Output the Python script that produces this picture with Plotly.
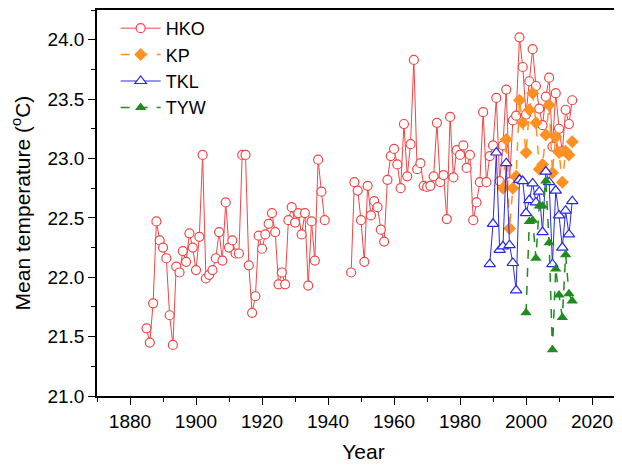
import plotly.graph_objects as go

# ---------------- data ----------------
hko_years = list(range(1885, 2015))
hko_temps = [
    # 1885-1894
    21.57, 21.45, 21.78, 22.47, 22.31, 22.25, 22.16, 21.68, 21.43, 22.09,
    # 1895-1904
    22.04, 22.22, 22.13, 22.37, 22.25, 22.06, 22.34, 23.03, 21.99, 22.02,
    # 1905-1914
    22.06, 22.16, 22.38, 22.14, 22.63, 22.25, 22.31, 22.20, 22.20, 23.03,
    # 1915-1924
    23.03, 22.10, 21.70, 21.84, 22.35, 22.24, 22.36, 22.45, 22.54, 22.38,
    # 1925-1934
    21.94, 22.04, 21.94, 22.48, 22.59, 22.46, 22.54, 22.36, 22.54, 21.93,
    # 1935-1939
    22.47, 22.14, 22.99, 22.72, 22.48,
    # 1940-1946 (no data)
    None, None, None, None, None, None, None,
    # 1947-1956
    22.04, 22.80, 22.73, 22.48, 22.13, 22.77, 22.52, 22.64, 22.59, 22.40,
    # 1957-1966
    22.30, 22.82, 23.02, 23.08, 22.95, 22.75, 23.29, 22.85, 23.12, 23.83,
    # 1967-1976
    22.91, 22.96, 22.77, 22.76, 22.77, 22.85, 23.30, 22.80, 22.86, 22.49,
    # 1977-1986
    23.35, 22.84, 23.07, 23.03, 23.11, 22.92, 23.03, 22.48, 22.63, 22.80,
    # 1987-1996
    23.39, 22.80, 23.02, 23.11, 23.51, 22.81, 23.11, 23.58, 22.80, 23.32,
    # 1997-2006
    23.36, 24.02, 23.77, 23.37, 23.65, 23.92, 23.61, 23.42, 23.28, 23.52,
    # 2007-2014
    23.68, 23.10, 23.55, 23.25, 23.06, 23.41, 23.29, 23.49,
]

kp_years = list(range(1993, 2015))
kp_temps = [22.75, 23.16, 22.41, 22.75, 22.85, 23.49, 23.30, 23.05, 23.41, 23.55,
            23.30, 22.91, 22.95, 23.20, 23.45, 22.88, 23.18, 23.05, 22.80, 23.06,
            23.03, 23.14]

tkl_years = list(range(1989, 2015))
tkl_temps = [22.11, 22.45, 23.05, 22.23, 22.26, 22.96, 22.27, 22.12, 21.89, 22.82,
             22.81, 22.54, 22.65, 22.79, 22.63, 22.72, 22.38, 22.89, 22.80, 22.11,
             22.73, 22.52, 22.25, 22.56, 22.36, 22.64]

tyw_years = list(range(2000, 2015))
tyw_temps = [21.70, 22.47, 22.48, 22.16, 22.60, 22.60, 22.81, 22.29, 21.39, 22.07,
             21.85, 21.66, 22.19, 21.86, 21.80]

x_ticks = [1880, 1900, 1920, 1940, 1960, 1980, 2000, 2020]
y_ticks = [21.0, 21.5, 22.0, 22.5, 23.0, 23.5, 24.0]

# ---------------- styles ----------------
RED = "rgb(240,70,70)"
ORANGE = "rgb(255,145,35)"
BLUE = "rgb(40,40,230)"
GREEN = "rgb(30,140,30)"
FONT = "Liberation Sans, Arial, sans-serif"

fig = go.Figure()
fig.add_trace(go.Scatter(
    x=hko_years, y=hko_temps, name="HKO", mode="lines+markers",
    connectgaps=False,
    line=dict(color=RED, width=1),
    marker=dict(symbol="circle", size=9, color="white",
                line=dict(color=RED, width=1.2)),
))
fig.add_trace(go.Scatter(
    x=kp_years, y=kp_temps, name="KP", mode="lines+markers",
    line=dict(color=ORANGE, width=1.5, dash="dash"),
    marker=dict(symbol="diamond", size=10, color=ORANGE,
                line=dict(color=ORANGE, width=0)),
))
fig.add_trace(go.Scatter(
    x=tkl_years, y=tkl_temps, name="TKL", mode="lines+markers",
    line=dict(color=BLUE, width=1),
    marker=dict(symbol="triangle-up", size=10, color="white",
                line=dict(color=BLUE, width=1.2)),
))
fig.add_trace(go.Scatter(
    x=tyw_years, y=tyw_temps, name="TYW", mode="lines+markers",
    line=dict(color=GREEN, width=1.5, dash="dash"),
    marker=dict(symbol="triangle-up", size=10, color=GREEN,
                line=dict(color=GREEN, width=0)),
))

# page has an 8px body margin: compensate so the plot lands where the reference has it
fig.update_layout(
    width=622, height=467,
    margin=dict(l=89, r=0, t=2, b=79, autoexpand=False),
    plot_bgcolor="white", paper_bgcolor="white",
    font=dict(family=FONT, color="black", size=18),
    legend=dict(x=0.035, y=1.0, xanchor="left", yanchor="top",
                bgcolor="rgba(0,0,0,0)", font=dict(size=18, family=FONT),
                tracegroupgap=0, itemwidth=40),
)
fig.update_xaxes(
    range=[1870, 2031.5], tickvals=x_ticks, ticktext=[str(v) for v in x_ticks],
    automargin=False,
    ticks="outside", ticklen=7, tickwidth=1.3, tickcolor="black",
    showline=True, linecolor="black", linewidth=1.5, mirror=True,
    showgrid=False, zeroline=False,
    minor=dict(dtick=10, tick0=1870, ticks="outside", ticklen=4,
               tickcolor="black", tickwidth=1.3, showgrid=False),
    title=dict(text="Year", font=dict(size=21, family=FONT), standoff=14),
    tickfont=dict(size=19, family=FONT),
)
fig.update_yaxes(
    range=[21.0, 24.25], tickvals=y_ticks, ticktext=[f"{v:.1f}" for v in y_ticks],
    automargin=False,
    ticks="outside", ticklen=7, tickwidth=1.3, tickcolor="black",
    showline=True, linecolor="black", linewidth=1.5, mirror=False,
    showgrid=False, zeroline=False,
    minor=dict(dtick=0.25, tick0=21.0, ticks="outside", ticklen=4,
               tickcolor="black", tickwidth=1.3, showgrid=False),
    title=dict(text="Mean temperature (<sup>o</sup>C)",
               font=dict(size=21, family=FONT), standoff=16),
    tickfont=dict(size=19, family=FONT),
)

fig.write_html("out.html")
